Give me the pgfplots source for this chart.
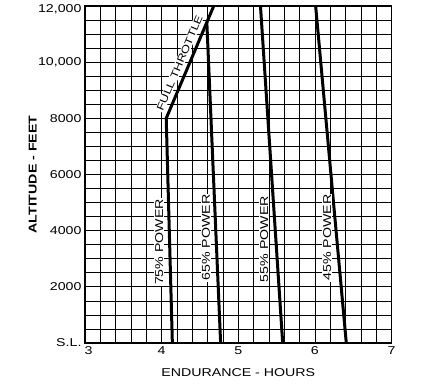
\documentclass[border=0pt]{standalone}
\usepackage{fontspec}
\setmainfont{Liberation Sans}[FakeStretch=1.25]
\usepackage{pgfplots}
\pgfplotsset{compat=1.18}
\newcommand{\lf}{\fontsize{11.4}{13}\selectfont}
\newcommand{\ftf}{\fontsize{10.3}{12}\selectfont}
\tikzset{pline/.style={black, line width=3bp, line join=round, line cap=butt}}
\begin{document}
\begin{tikzpicture}
\path[use as bounding box] (-85bp,-43bp) rectangle (336bp,343bp);
\begin{axis}[
  at={(0,0)}, anchor=south west,
  scale only axis,
  width=306.5bp, height=337bp,
  xmin=3, xmax=7, ymin=0, ymax=12000,
  xtick={3,4,5,6,7},
  xticklabels={\hspace*{7bp}3,4,5,6,7},
  ytick={0,2000,4000,6000,8000,10000,12000},
  yticklabels={S.L.,2000,4000,6000,8000,{10,000},{\raisebox{-7bp}[0pt][0pt]{12,000}}},
  minor x tick num=4,
  minor y tick num=3,
  grid=both,
  major grid style={black, line width=0.7bp},
  minor grid style={black, line width=0.7bp},
  major tick length=0pt, minor tick length=0pt,
  axis line style={black, line width=1.1bp},
  tick label style={font=\lf},
  /pgf/number format/assume math mode=true,
  xlabel={ENDURANCE - HOURS},
  ylabel={\bfseries ALTITUDE - FEET},
  xlabel style={font=\lf, at={(axis description cs:0.5,0)}, anchor=base, yshift=-33bp},
  ylabel style={font=\lf, at={(axis description cs:-0.17,0.5)}, anchor=center},
]
% 75% power and full throttle
\addplot[pline] coordinates {(4.14,0) (4.06,8000)};
\addplot[pline] coordinates {(4.06,8000) (4.68,12000)}
  node[pos=0.46, sloped, above=3bp, fill=white, inner sep=1bp, font=\ftf] {FULL THROTTLE};
% 65% power
\addplot[pline] coordinates {(4.77,0) (4.59,11420)};
% 55% power
\addplot[pline] coordinates {(5.58,0) (5.29,12000)};
% 45% power
\addplot[pline] coordinates {(6.41,0) (6.01,12000)};
\node[rotate=90, fill=white, inner sep=1bp, font=\lf] at (axis cs:3.97,3600) {75\% POWER};
\node[rotate=90, fill=white, inner sep=1bp, font=\lf] at (axis cs:4.58,3750) {65\% POWER};
\node[rotate=90, fill=white, inner sep=1bp, font=\lf] at (axis cs:5.34,3700) {55\% POWER};
\node[rotate=90, fill=white, inner sep=1bp, font=\lf] at (axis cs:6.16,3750) {45\% POWER};
\end{axis}
\end{tikzpicture}
\end{document}
